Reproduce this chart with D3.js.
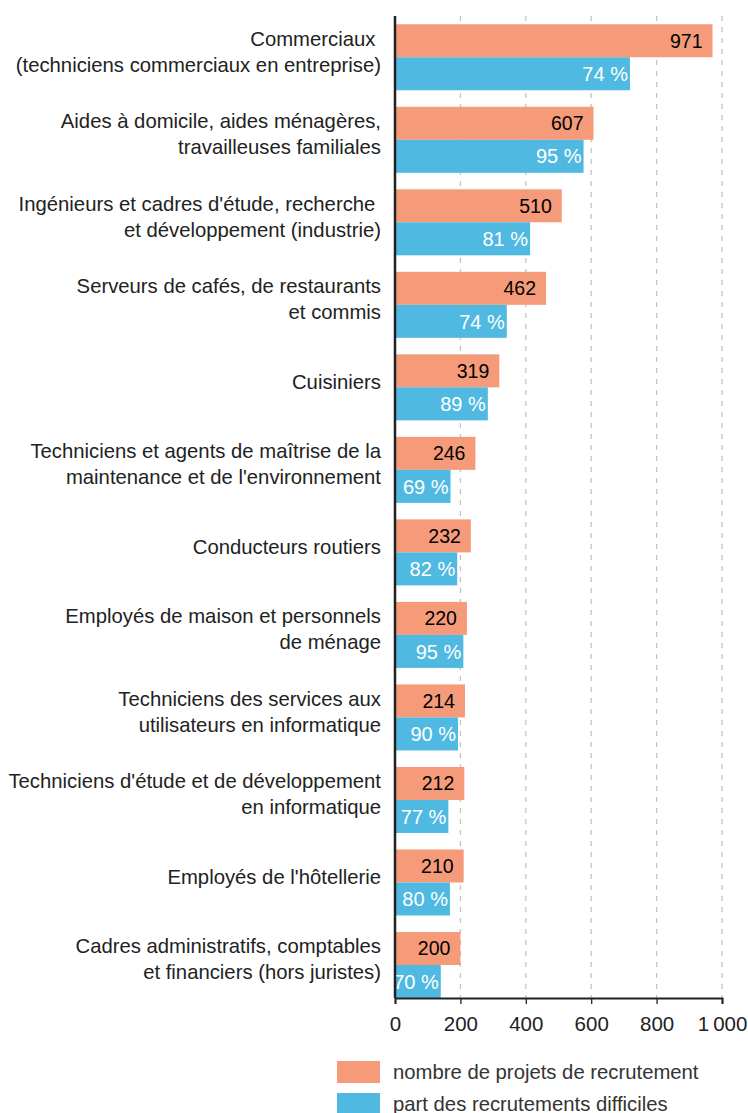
<!DOCTYPE html>
<html>
<head>
<meta charset="utf-8">
<script src="https://cdn.jsdelivr.net/npm/d3@7"></script>
<style>
  body { margin: 0; background: #fff; }
  svg { display: block; font-family: "Liberation Sans", Arial, sans-serif; }
</style>
</head>
<body>
<svg width="748" height="1113"></svg>
<script>
const categories = [
	"Commerciaux \n(techniciens commerciaux en entreprise)",
	"Aides à domicile, aides ménagères,\ntravailleuses familiales",
	"Ingénieurs et cadres d'étude, recherche \net développement (industrie)",
	"Serveurs de cafés, de restaurants\net commis",
	"Cuisiniers",
	"Techniciens et agents de maîtrise de la\nmaintenance et de l'environnement",
	"Conducteurs routiers",
	"Employés de maison et personnels\nde ménage",
	"Techniciens des services aux\nutilisateurs en informatique",
	"Techniciens d'étude et de développement\nen informatique",
	"Employés de l'hôtellerie",
	"Cadres administratifs, comptables\net financiers (hors juristes)"
]
const projets = [971, 607, 510, 462, 319, 246, 232, 220, 214, 212, 210, 200]
const partDifficiles = [74, 95, 81, 74, 89, 69, 82, 95, 90, 77, 80, 70]
const xTicks = [0, 200, 400, 600, 800, 1000]
const legendLabels = ["nombre de projets de recrutement", "part des recrutements difficiles"]

const colors = { projets: "#f59b7a", difficiles: "#50b9e1" }
const margin = { top: 16, right: 26, left: 395, bottom: 115 }
const svg = d3.select("svg")
const width = +svg.attr("width") - margin.left - margin.right
const height = +svg.attr("height") - margin.top - margin.bottom

const data = categories.map((c, i) => ({
	cat: c,
	projets: projets[i],
	pct: partDifficiles[i],
	// bar length = number of difficult recruitments
	difficiles: projets[i] * partDifficiles[i] / 100
}))

const graph = svg.append("g").attr("transform", `translate(${margin.left}, ${margin.top})`)

const x = d3.scaleLinear().domain([0, 1000]).range([0, width])
const y = d3.scaleBand()
	.domain(categories)
	.range([0, height])
	.paddingInner(0.2)
	.paddingOuter(0.05)
	.align(1)
const ySub = d3.scaleBand().domain(["projets", "difficiles"]).range([0, y.bandwidth()])

// gridlines
graph.append("g")
	.selectAll("line")
	.data(xTicks.slice(1))
	.enter()
	.append("line")
	.attr("x1", (d) => x(d))
	.attr("x2", (d) => x(d))
	.attr("y1", 0)
	.attr("y2", height)
	.attr("stroke", "#c4c4c4")
	.attr("stroke-width", 1.3)
	.attr("stroke-dasharray", "5,6")

const groups = graph.selectAll(".grp")
	.data(data)
	.enter()
	.append("g")
	.attr("class", "grp")
	.attr("transform", (d) => `translate(0, ${y(d.cat)})`)

groups.append("rect")
	.attr("x", 0)
	.attr("y", ySub("projets"))
	.attr("width", (d) => x(d.projets))
	.attr("height", ySub.bandwidth())
	.attr("fill", colors.projets)

groups.append("rect")
	.attr("x", 0)
	.attr("y", ySub("difficiles"))
	.attr("width", (d) => x(d.difficiles))
	.attr("height", ySub.bandwidth())
	.attr("fill", colors.difficiles)

groups.append("text")
	.attr("x", (d) => x(d.projets) - 10)
	.attr("y", ySub("projets") + ySub.bandwidth() / 2)
	.attr("dy", "0.36em")
	.attr("text-anchor", "end")
	.attr("font-size", 19.5)
	.attr("fill", "#000")
	.text((d) => d.projets)

groups.append("text")
	.attr("x", (d) => x(d.difficiles) - 2)
	.attr("y", ySub("difficiles") + ySub.bandwidth() / 2)
	.attr("dy", "0.36em")
	.attr("text-anchor", "end")
	.attr("font-size", 20)
	.attr("fill", "#fff")
	.text((d) => d.pct + "\u00a0%")

// category labels
const lineH = 26
groups.append("text")
	.attr("text-anchor", "end")
	.attr("font-size", 20.3)
	.attr("fill", "#222")
	.style("white-space", "pre")
	.each(function (d) {
		const lines = d.cat.split("\n")
		const mid = y.bandwidth() / 2 - 6
		lines.forEach((l, i) => {
			d3.select(this).append("tspan")
				.attr("x", -14)
				.attr("y", mid + (i - (lines.length - 1) / 2) * lineH)
				.attr("dy", "0.36em")
				.text(l)
		})
	})

// axes
const xAxis = d3.axisBottom(x)
	.tickValues(xTicks)
	.tickSize(6)
	.tickFormat((d) => d3.format(",")(d).replace(",", "\u2009"))
const xAxisGroup = graph.append("g").attr("transform", `translate(0, ${height})`).call(xAxis)
xAxisGroup.select(".domain").attr("stroke", "#222").attr("stroke-width", 2)
xAxisGroup.selectAll(".tick line").attr("stroke", "#222").attr("stroke-width", 1.3)
xAxisGroup.selectAll(".tick text")
	.attr("font-family", "Liberation Sans, Arial, sans-serif")
	.attr("font-size", 20.5)
	.attr("fill", "#222")
	.attr("y", 18)

graph.append("line")
	.attr("x1", 0).attr("x2", 0)
	.attr("y1", 0).attr("y2", height)
	.attr("stroke", "#222")
	.attr("stroke-width", 2.5)

// legend
const legend = svg.append("g").attr("transform", "translate(337, 1061)")
const legendColors = [colors.projets, colors.difficiles]
legendLabels.forEach((t, i) => {
	legend.append("rect")
		.attr("x", 0)
		.attr("y", i * 32)
		.attr("width", 43)
		.attr("height", 22)
		.attr("fill", legendColors[i])
	legend.append("text")
		.attr("x", 56)
		.attr("y", i * 32 + 11)
		.attr("dy", "0.36em")
		.attr("font-size", 20.3)
		.attr("fill", "#333")
		.text(t)
})
</script>
</body>
</html>
